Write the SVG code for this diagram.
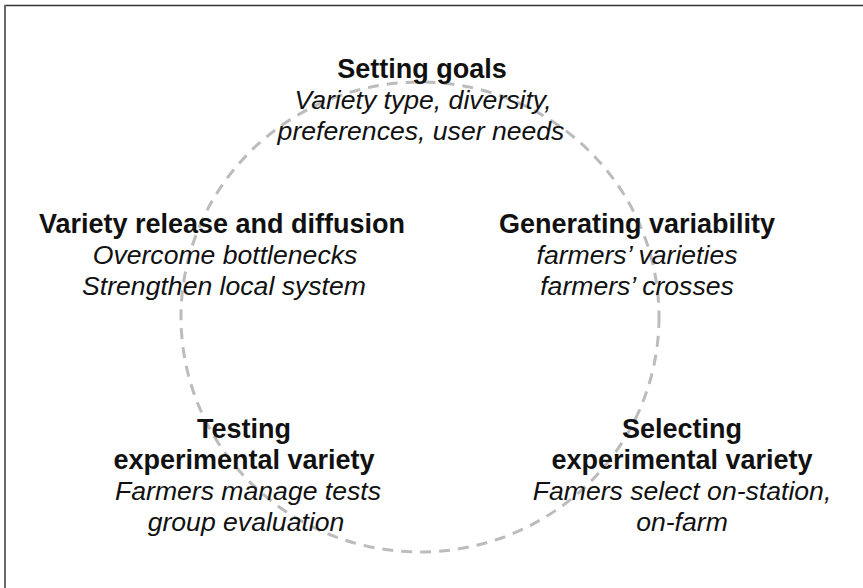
<svg xmlns="http://www.w3.org/2000/svg" width="863" height="588" viewBox="0 0 863 588">
  <style>
    .frame { fill: none; }
    .cycle { fill: none; stroke: #bcbcbc; stroke-width: 3; stroke-dasharray: 11 8; }
    text { font-family: "Liberation Sans", Arial, sans-serif; fill: #111; text-anchor: middle; }
    .title { font-weight: bold; font-size: 27px; }
    .note { font-style: italic; font-size: 26.6px; }
  </style>
  <rect width="863" height="588" fill="#fff"/>
  <!-- outer frame (top and left edges) -->
  <line class="frame" x1="4.5" y1="5.5" x2="863" y2="5.5" stroke-width="1.5" stroke="#333"/>
  <line class="frame" x1="5" y1="5" x2="5" y2="588" stroke-width="2" stroke="#6a6a6a"/>

  <g id="connectors">
    <ellipse class="cycle" cx="420" cy="317" rx="239" ry="235"/>
  </g>

  <g id="setting-goals">
    <text class="title" x="422" y="78">Setting goals</text>
    <text class="note" x="423" y="109">Variety type, diversity,</text>
    <text class="note" x="421" y="140">preferences, user needs</text>
  </g>

  <g id="generating-variability">
    <text class="title" x="637" y="233">Generating variability</text>
    <text class="note" x="637" y="264">farmers’ varieties</text>
    <text class="note" x="637" y="295">farmers’ crosses</text>
  </g>

  <g id="selecting">
    <text class="title" x="682" y="438">Selecting</text>
    <text class="title" x="682" y="469">experimental variety</text>
    <text class="note" x="682" y="500">Famers select on-station,</text>
    <text class="note" x="682" y="531">on-farm</text>
  </g>

  <g id="testing">
    <text class="title" x="244" y="438">Testing</text>
    <text class="title" x="244" y="469">experimental variety</text>
    <text class="note" x="248" y="500">Farmers manage tests</text>
    <text class="note" x="246" y="531">group evaluation</text>
  </g>

  <g id="release">
    <text class="title" x="222" y="233">Variety release and diffusion</text>
    <text class="note" x="225" y="264">Overcome bottlenecks</text>
    <text class="note" x="224" y="295">Strengthen local system</text>
  </g>
</svg>
